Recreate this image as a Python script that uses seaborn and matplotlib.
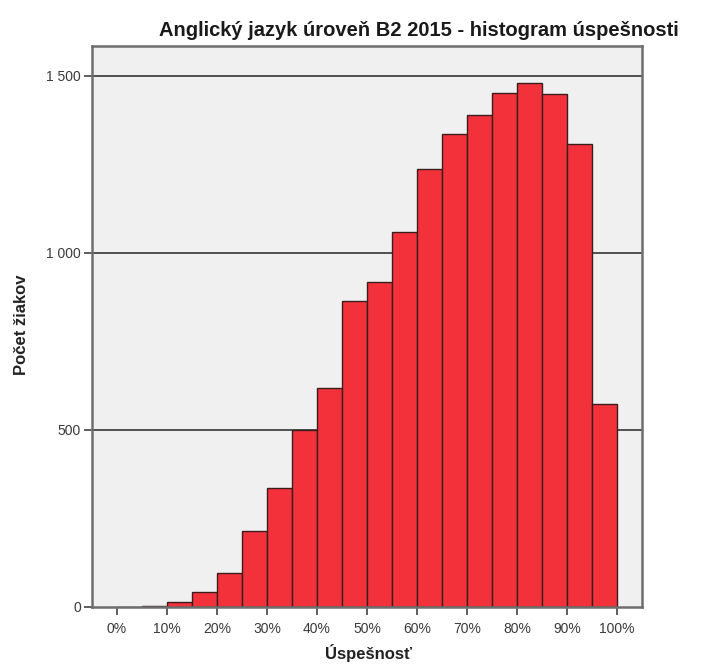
import numpy as np
import pandas as pd
import seaborn as sns
import matplotlib.pyplot as plt

# 5% bins of success rate and the number of pupils in each
bin_edges = [0, 5, 10, 15, 20, 25, 30, 35, 40, 45, 50,
             55, 60, 65, 70, 75, 80, 85, 90, 95, 100]
counts = [0, 4, 14, 41, 96, 215, 337, 499, 619, 864,
          918, 1058, 1238, 1335, 1390, 1451, 1479, 1448, 1307, 574]
x_ticks = [0, 10, 20, 30, 40, 50, 60, 70, 80, 90, 100]
x_tick_labels = ["0%", "10%", "20%", "30%", "40%", "50%",
                 "60%", "70%", "80%", "90%", "100%"]
y_ticks = [0, 500, 1000, 1500]
y_tick_labels = ["0", "500", "1 000", "1 500"]

df = pd.DataFrame({
    "mid": [(a + b) / 2 for a, b in zip(bin_edges[:-1], bin_edges[1:])],
    "count": counts,
})

sns.set_style("white", {"axes.facecolor": "#F0F0F0",
                        "axes.edgecolor": "#6a6a6a"})
plt.rcParams["font.family"] = ["Liberation Sans", "DejaVu Sans"]

fig = plt.figure(figsize=(7.05, 6.65), dpi=100)
ax = fig.add_axes([92 / 705, 58 / 665, 550 / 705, 561 / 665])

for y in y_ticks[1:]:
    ax.axhline(y, color="#505050", lw=1.4, zorder=0.5)

sns.histplot(data=df, x="mid", weights="count", bins=bin_edges,
             color="#F2313B", edgecolor="#3a1e1e", linewidth=1.0,
             alpha=1, ax=ax, zorder=2)

ax.set_xlim(-5, 105)
ax.set_ylim(0, 1584)
ax.set_xticks(x_ticks)
ax.set_xticklabels(x_tick_labels)
ax.set_yticks(y_ticks)
ax.set_yticklabels(y_tick_labels)
ax.tick_params(axis="both", length=6, width=1.3, color="#505050",
               labelsize=10, labelcolor="#3a3a3a", pad=2,
               bottom=True, left=True)
ax.tick_params(axis="x", pad=5)

for sp in ax.spines.values():
    sp.set_linewidth(1.8)
    sp.set_color("#6e6e6e")

ax.set_xlabel("")
ax.set_ylabel("")
fig.text(368 / 705, 1 - 653 / 665, "Úspešnosť", ha="center", va="center",
         fontsize=12, fontweight="bold", color="#222222")
fig.text(22 / 705, 1 - 325 / 665, "Počet žiakov", ha="center", va="center",
         rotation=90, fontsize=12, fontweight="bold", color="#222222")

fig.text(419 / 705, 1 - 30 / 665,
         "Anglický jazyk úroveň B2 2015 - histogram úspešnosti",
         ha="center", va="center", fontsize=14.5, fontweight="bold",
         color="#1a1a1a")

fig.savefig("out.png", dpi=100)
